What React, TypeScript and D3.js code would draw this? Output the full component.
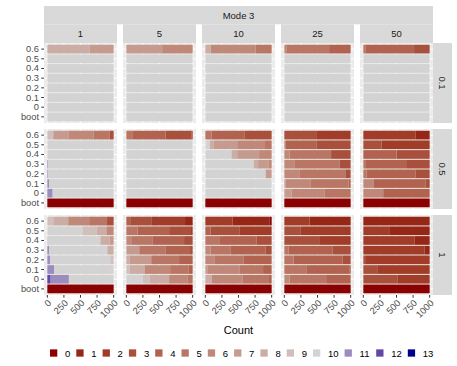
import React from "react";
import * as d3 from "d3";

// facet levels
const modes = ["1", "5", "10", "25", "50"];
const rowFacets = ["0.1", "0.5", "1"];
const yLevels = ["0.6", "0.5", "0.4", "0.3", "0.2", "0.1", "0", "boot"];
const fillLevels = [0, 1, 2, 3, 4, 5, 6, 7, 8, 9, 10, 11, 12, 13];
const xTicks = [0, 250, 500, 750, 1000];
const xMinor = [125, 375, 625, 875];

type Seg = [number, number]; // [fill level, count]
const G: Seg[] = [[10, 1000]];
const B: Seg[] = [[0, 1000]];

// [mode][yLevel] -> segments, row facet 0.1
const counts01: Seg[][][] = [
  [[[8, 640], [7, 360]], G, G, G, G, G, G, G],
  [[[7, 540], [6, 460]], G, G, G, G, G, G, G],
  [[[8, 80], [6, 680], [5, 240]], G, G, G, G, G, G, G],
  [[[6, 30], [5, 645], [4, 325]], G, G, G, G, G, G, G],
  [[[5, 30], [4, 735], [3, 235]], G, G, G, G, G, G, G],
];

// row facet 0.5
const counts05: Seg[][][] = [
  [
    [[9, 90], [7, 235], [6, 375], [5, 240], [3, 60]],
    G,
    G,
    [[11, 10], [10, 990]],
    [[11, 10], [10, 990]],
    [[11, 25], [10, 975]],
    [[12, 5], [11, 75], [10, 920]],
    B,
  ],
  [[[5, 100], [4, 490], [3, 395], [2, 15]], G, G, G, G, G, G, B],
  [
    [[5, 95], [4, 500], [3, 405]],
    [[10, 70], [8, 60], [7, 350], [6, 420], [5, 100]],
    [[10, 395], [8, 85], [7, 330], [6, 190]],
    [[10, 730], [8, 65], [7, 155], [6, 50]],
    [[10, 910], [7, 90]],
    G,
    G,
    B,
  ],
  [
    [[3, 480], [2, 520]],
    [[6, 25], [4, 465], [3, 510]],
    [[6, 80], [5, 625], [3, 295]],
    [[6, 160], [5, 675], [3, 165]],
    [[6, 235], [5, 685], [3, 80]],
    [[7, 20], [6, 380], [5, 570], [4, 30]],
    [[7, 110], [6, 500], [5, 390]],
    B,
  ],
  [
    [[2, 785], [1, 215]],
    [[3, 275], [2, 725]],
    [[4, 500], [3, 500]],
    [[5, 40], [4, 605], [3, 355]],
    [[5, 50], [4, 735], [3, 215]],
    [[6, 160], [4, 775], [3, 65]],
    [[6, 300], [4, 700]],
    B,
  ],
];

// row facet 1
const counts1: Seg[][][] = [
  [
    [[9, 90], [8, 225], [6, 315], [5, 270], [3, 100]],
    [[10, 530], [9, 210], [8, 150], [6, 110]],
    [[11, 5], [10, 795], [8, 140], [7, 60]],
    [[11, 25], [10, 880], [8, 95]],
    [[11, 40], [10, 910], [9, 50]],
    [[11, 105], [10, 895]],
    [[12, 50], [11, 275], [10, 675]],
    B,
  ],
  [
    [[4, 70], [3, 315], [2, 500], [1, 115]],
    [[5, 170], [4, 475], [3, 330], [2, 25]],
    [[6, 85], [5, 315], [4, 470], [3, 130]],
    [[7, 195], [5, 400], [4, 365], [3, 40]],
    [[8, 50], [7, 325], [5, 420], [4, 205]],
    [[9, 50], [8, 225], [6, 385], [5, 275], [4, 65]],
    [[10, 245], [9, 110], [8, 290], [6, 275], [5, 80]],
    B,
  ],
  [
    [[2, 410], [1, 560], [0, 30]],
    [[4, 80], [3, 440], [2, 480]],
    [[5, 220], [4, 550], [3, 230]],
    [[6, 80], [5, 305], [4, 520], [3, 95]],
    [[6, 145], [5, 435], [4, 420]],
    [[7, 30], [6, 490], [5, 350], [4, 130]],
    [[8, 95], [6, 470], [5, 395], [4, 40]],
    B,
  ],
  [
    [[2, 380], [1, 620]],
    [[3, 240], [2, 760]],
    [[3, 525], [2, 475]],
    [[5, 65], [4, 665], [3, 270]],
    [[5, 140], [4, 735], [3, 125]],
    [[5, 340], [4, 640], [3, 20]],
    [[6, 80], [5, 550], [4, 370]],
    B,
  ],
  [
    [[1, 1000]],
    [[2, 390], [1, 610]],
    [[2, 775], [1, 225]],
    [[2, 920], [1, 80]],
    [[3, 40], [2, 960]],
    [[3, 220], [2, 780]],
    [[3, 520], [2, 480]],
    B,
  ],
];

const allCounts = [counts01, counts05, counts1];

const lowCol = "#8B0000";
const midCol = "#D3D3D3";
const highCol = "#00008B";
const fillColor = (k: number) =>
  k <= 10
    ? d3.interpolateLab(lowCol, midCol)(k / 10)
    : d3.interpolateLab(midCol, highCol)((k - 10) / 3);

const W = 457;
const H = 366;
const FONT = "'Liberation Sans', Arial, sans-serif";
const left = 44;
const right = 433;
const top = 43;
const bottom = 295;
const gap = 6;
const panelW = (right - left - gap * (modes.length - 1)) / modes.length;
const panelH = (bottom - top - gap * (rowFacets.length - 1)) / rowFacets.length;

const x = d3.scaleLinear().domain([-50, 1050]).range([0, panelW]);
const y = d3
  .scaleBand()
  .domain(yLevels)
  .range([0, panelH])
  .paddingInner(0.1)
  .paddingOuter(0.18);

// stack order: highest level nearest zero
const stacker = d3
  .stack<any>()
  .keys(fillLevels.slice().reverse().map(String));

function Panel({ data }: { data: Seg[][] }) {
  const table = yLevels.map((lvl, i) => {
    const row: any = { y: lvl };
    fillLevels.forEach((f) => (row[f] = 0));
    data[i].forEach(([f, n]) => (row[f] = n));
    return row;
  });
  const series = stacker(table);
  return (
    <g>
      <rect width={panelW} height={panelH} fill="#EBEBEB" />
      {xMinor.map((t) => (
        <line key={"m" + t} x1={x(t)} x2={x(t)} y1={0} y2={panelH} stroke="#fff" strokeWidth={0.5} />
      ))}
      {xTicks.map((t) => (
        <line key={"M" + t} x1={x(t)} x2={x(t)} y1={0} y2={panelH} stroke="#fff" strokeWidth={1} />
      ))}
      {yLevels.map((l) => (
        <line key={"h" + l} x1={0} x2={panelW} y1={y(l)! + y.bandwidth() / 2} y2={y(l)! + y.bandwidth() / 2} stroke="#fff" strokeWidth={1} />
      ))}
      {series.map((s) =>
        s.map((d, i) =>
          d[1] - d[0] > 0 ? (
            <rect
              key={s.key + "-" + i}
              x={x(d[0])}
              width={x(d[1]) - x(d[0])}
              y={y(yLevels[i])}
              height={y.bandwidth()}
              fill={fillColor(+s.key)}
            />
          ) : null
        )
      )}
    </g>
  );
}

export default function App() {
  const colX = (c: number) => left + c * (panelW + gap);
  const rowY = (r: number) => top + r * (panelH + gap);

  // legend layout
  const legendY = 353;
  let cursor = 50;
  const legendItems = fillLevels.map((f) => {
    const label = String(f);
    const item = { f, label, x: cursor };
    cursor += 15 + 5.3 * label.length + 6;
    return item;
  });

  return (
    <svg width={W} height={H} style={{ position: "absolute", left: 0, top: 0, fontFamily: FONT }}>
      <rect width={W} height={H} fill="#fff" />
      {/* top strips */}
      <rect x={left} y={6} width={right - left} height={18.3} fill="#D9D9D9" />
      <text x={(left + right) / 2} y={15.3} textAnchor="middle" dominantBaseline="central" fontSize={9.5} fill="#1A1A1A">
        Mode 3
      </text>
      {modes.map((m, c) => (
        <g key={m}>
          <rect x={colX(c)} y={24.3} width={panelW} height={top - 24.3} fill="#D9D9D9" />
          <text x={colX(c) + panelW / 2} y={33.7} textAnchor="middle" dominantBaseline="central" fontSize={9.5} fill="#1A1A1A">
            {m}
          </text>
        </g>
      ))}
      {/* right strips */}
      {rowFacets.map((r, i) => (
        <g key={r}>
          <rect x={right} y={rowY(i)} width={19} height={panelH} fill="#D9D9D9" />
          <text
            transform={`translate(${right + 9.5},${rowY(i) + panelH / 2}) rotate(90)`}
            textAnchor="middle"
            dominantBaseline="central"
            fontSize={9.5}
            fill="#1A1A1A"
          >
            {r}
          </text>
        </g>
      ))}
      {/* panels */}
      {rowFacets.map((r, ri) =>
        modes.map((m, ci) => (
          <g key={r + m} transform={`translate(${colX(ci)},${rowY(ri)})`}>
            <Panel data={allCounts[ri][ci]} />
          </g>
        ))
      )}
      {/* y axis */}
      {rowFacets.map((r, ri) => (
        <g key={"ya" + r} transform={`translate(${left},${rowY(ri)})`}>
          {yLevels.map((l) => {
            const cy = y(l)! + y.bandwidth() / 2;
            return (
              <g key={l}>
                <line x1={-2.7} x2={0} y1={cy} y2={cy} stroke="#333" strokeWidth={1} />
                <text x={-5} y={cy} textAnchor="end" dominantBaseline="central" fontSize={9.3} fill="#4D4D4D">
                  {l}
                </text>
              </g>
            );
          })}
        </g>
      ))}
      {/* x axis */}
      {modes.map((m, ci) => (
        <g key={"xa" + m} transform={`translate(${colX(ci)},${bottom})`}>
          {xTicks.map((t) => (
            <g key={t}>
              <line x1={x(t)} x2={x(t)} y1={0} y2={2.7} stroke="#333" strokeWidth={1} />
              <text
                transform={`translate(${x(t)},${4}) rotate(-45)`}
                textAnchor="end"
                dy="0.71em"
                fontSize={9.3}
                fill="#4D4D4D"
              >
                {t}
              </text>
            </g>
          ))}
        </g>
      ))}
      <text x={(left + right) / 2} y={334} textAnchor="middle" fontSize={11} fill="#000">
        Count
      </text>
      {/* legend */}
      {legendItems.map((it) => (
        <g key={it.f}>
          <rect x={it.x} y={legendY - 3.65} width={7.3} height={7.3} fill={fillColor(it.f)} />
          <text x={it.x + 15} y={legendY} dominantBaseline="central" fontSize={9.5} fill="#000">
            {it.label}
          </text>
        </g>
      ))}
    </svg>
  );
}
